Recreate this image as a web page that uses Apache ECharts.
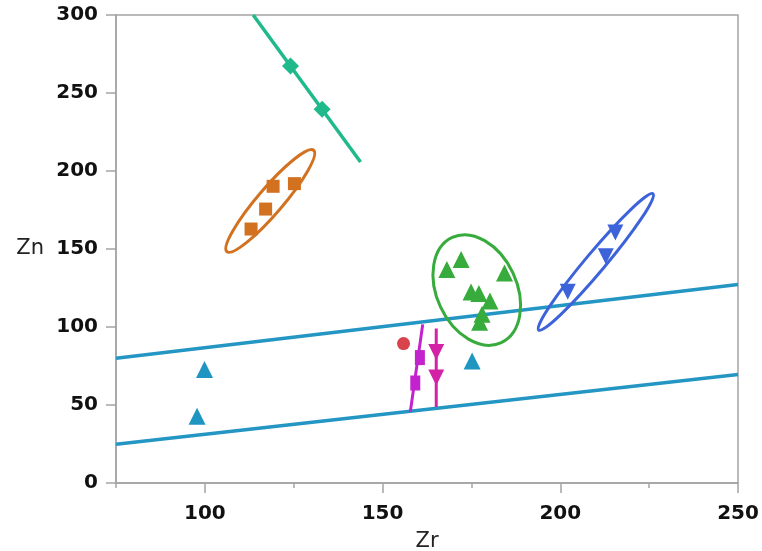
<!DOCTYPE html>
<html lang="en" style="height: 100%">
<head>
<meta charset="utf-8">
<title>Zr vs Zn</title>
</head>
<body style="height: 100%; margin: 0; background: #fff">
<div id="container" style="height: 100%"></div>
<script type="text/javascript" src="https://cdn.jsdelivr.net/npm/echarts@6/dist/echarts.min.js"></script>
<script type="text/javascript">

// Axis ticks
var xMajorTicks = [100, 150, 200, 250];
var xMinorTicks = [75, 125, 175, 225];
var yTicks = [0, 50, 100, 150, 200, 250, 300];

// Teal trend line with diamonds
var tealLine = [[113.6, 300], [143.8, 205.8]];
var tealDiamonds = [[124.1, 267.3], [133.0, 239.6]];

// Orange squares and ellipse [cx, cy, endX, endY, minor/major]
var orangeSquares = [[113.0, 162.8], [117.1, 175.6], [119.2, 190.2], [125.2, 191.9]];
var orangeEllipse = [[118.4, 180.8, 130.6, 213.3, 0.19]];

// Green triangles and ellipse
var greenTriangles = [[168.1, 136.8], [172.1, 143.2], [184.3, 134.6], [174.9, 122.4],
    [177.1, 121.4], [180.2, 116.7], [178.0, 108.1], [177.3, 103.0]];
var greenEllipse = [[176.5, 123.7, 169.6, 157.4, 0.69]];

// Blue down-triangles and ellipse
var blueTriangles = [[202.1, 122.6], [212.8, 145.3], [215.5, 160.6]];
var blueEllipse = [[210.0, 141.7, 226.1, 185.4, 0.11]];

// Cyan boundary lines and triangles
var cyanUpper = [[75, 80.0], [250, 127.3]];
var cyanLower = [[75, 24.8], [250, 69.5]];
var cyanTriangles = [[97.8, 42.8], [99.9, 72.7], [175.2, 78.2]];

// Red circle
var redCircle = [[155.9, 89.4]];

// Magenta line with squares
var magentaLine = [[157.8, 45.5], [161.3, 101.7]];
var magentaSquares = [[160.5, 80.4], [159.2, 64.1]];

// Pink line with down-triangles
var pinkLine = [[165.1, 48.7], [165.1, 99.0]];
var pinkTriangles = [[165.1, 84.0], [165.1, 67.6]];

var dom = document.getElementById('container');
var myChart = echarts.init(dom);

function lineSeries(data, color, width) {
    return {
        type: 'line',
        data: data,
        showSymbol: false,
        symbol: 'none',
        silent: true,
        lineStyle: { color: color, width: width },
        z: 2
    };
}

function scatterSeries(data, color, symbol, size, rotate) {
    return {
        type: 'scatter',
        data: data,
        symbol: symbol,
        symbolSize: size,
        symbolRotate: rotate || 0,
        itemStyle: { color: color, opacity: 1 },
        z: 4
    };
}

function ellipseSeries(data, color) {
    return {
        type: 'custom',
        data: data,
        encode: { x: [0, 2], y: [1, 3] },
        z: 3,
        renderItem: function (params, api) {
            var c = api.coord([api.value(0), api.value(1)]);
            var e = api.coord([api.value(2), api.value(3)]);
            var dx = e[0] - c[0];
            var dy = e[1] - c[1];
            var rx = Math.sqrt(dx * dx + dy * dy);
            return {
                type: 'ellipse',
                x: c[0],
                y: c[1],
                rotation: -Math.atan2(dy, dx),
                shape: { cx: 0, cy: 0, rx: rx, ry: rx * api.value(4) },
                style: { fill: null, stroke: color, lineWidth: 3 }
            };
        }
    };
}

var gray = '#a4a4a4';
var labelStyle = {
    color: '#111',
    fontFamily: 'DejaVu Sans',
    fontWeight: 'bold',
    fontSize: 20
};
var nameStyle = { color: '#222', fontFamily: 'DejaVu Sans', fontSize: 21 };

var option = {
    animation: false,
    grid: {
        left: 116,
        right: 24,
        top: 15,
        bottom: 68,
        show: true,
        borderColor: gray,
        borderWidth: 1.5,
        containLabel: false,
        outerBoundsMode: 'none'
    },
    xAxis: [{
        type: 'value',
        min: 75,
        max: 250,
        interval: 25,
        name: 'Zr',
        nameLocation: 'middle',
        nameGap: 48,
        nameTextStyle: nameStyle,
        axisLine: { show: true, lineStyle: { color: gray, width: 1.5 } },
        axisTick: { show: true, length: 10, customValues: xMajorTicks, lineStyle: { color: gray, width: 1.5 } },
        axisLabel: Object.assign({ margin: 21, customValues: xMajorTicks }, labelStyle),
        splitLine: { show: false }
    }, {
        type: 'value',
        min: 75,
        max: 250,
        interval: 25,
        position: 'bottom',
        axisLine: { show: false },
        axisTick: { show: true, length: 5, customValues: xMinorTicks, lineStyle: { color: gray, width: 1.5 } },
        axisLabel: { show: false },
        splitLine: { show: false }
    }],
    yAxis: {
        type: 'value',
        min: yTicks[0],
        max: yTicks[yTicks.length - 1],
        interval: 50,
        name: 'Zn',
        nameLocation: 'middle',
        nameRotate: 0,
        nameGap: 72,
        nameTextStyle: nameStyle,
        axisLine: { show: true, lineStyle: { color: gray, width: 1.5 } },
        axisTick: { show: true, length: 10, lineStyle: { color: gray, width: 1.5 } },
        axisLabel: Object.assign({ margin: 18 }, labelStyle),
        splitLine: { show: false }
    },
    series: [
        lineSeries(cyanUpper, '#2496c3', 3.5),
        lineSeries(cyanLower, '#2496c3', 3.5),
        lineSeries(tealLine, '#1fb98b', 3.5),
        lineSeries(magentaLine, '#c323cc', 3),
        lineSeries(pinkLine, '#d422a6', 3),
        ellipseSeries(orangeEllipse, '#d2711f'),
        ellipseSeries(greenEllipse, '#37ab3c'),
        ellipseSeries(blueEllipse, '#3d63da'),
        scatterSeries(tealDiamonds, '#1fb98b', 'diamond', 17),
        scatterSeries(orangeSquares, '#d2711f', 'rect', 13),
        scatterSeries(greenTriangles, '#37ab3c', 'triangle', 17),
        scatterSeries(blueTriangles, '#3d63da', 'triangle', 16, 180),
        scatterSeries(cyanTriangles, '#1f96c2', 'triangle', 17),
        scatterSeries(redCircle, '#d9434b', 'circle', 13),
        scatterSeries(magentaSquares, '#c323cc', 'rect', [10, 15]),
        scatterSeries(pinkTriangles, '#d422a6', 'triangle', 16, 180)
    ]
};

myChart.setOption(option);
window.addEventListener('resize', myChart.resize);
</script>
</body>
</html>
